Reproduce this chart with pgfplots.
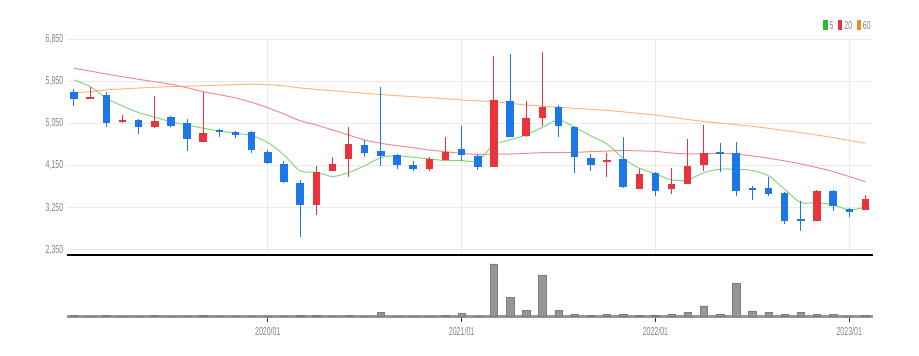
\documentclass[border=0pt]{standalone}
\usepackage{fontspec}
\setmainfont{Liberation Sans}
\newfontfamily\narrowfont[FakeStretch=0.61]{Liberation Sans}
\usepackage{pgfplots}
\usepackage{pgfplotstable}
\pgfplotsset{compat=1.18}
\definecolor{upc}{RGB}{232,52,58}
\definecolor{dnc}{RGB}{28,120,230}
\definecolor{maA}{RGB}{130,214,130}
\definecolor{maB}{RGB}{242,140,140}
\definecolor{maC}{RGB}{250,185,130}
\definecolor{legA}{RGB}{40,190,40}
\definecolor{legB}{RGB}{235,50,55}
\definecolor{legC}{RGB}{240,140,40}
\definecolor{gridc}{RGB}{234,234,234}
\definecolor{labc}{RGB}{130,130,130}
\definecolor{volc}{RGB}{150,150,150}
\definecolor{volb}{RGB}{125,125,125}

% up (red) candles: index, open, high, low, close
\pgfplotstableread{
x o h l c
1 5583 5839 5583 5618
3 5077 5234 5063 5127
5 4970 5640 4956 5113
8 4657 5732 4657 4842
15 3311 4144 3098 4016
16 4030 4330 4030 4180
17 4294 4985 3902 4607
22 4073 4330 4045 4301
23 4265 4757 4265 4443
26 4130 6494 4130 5554
28 4785 5533 4771 5163
29 5177 6579 4999 5398
33 4230 4429 3917 4273
35 3660 4073 3660 3974
37 3653 4102 3546 3753
38 3760 4714 3760 4144
39 4173 5020 4045 4429
46 2962 3632 2962 3603
49 3197 3532 3197 3439
}\upcandles

% down (blue) candles
\pgfplotstableread{
x o h l c
0 5718 5782 5426 5568
2 5654 5725 4970 5070
4 5127 5141 4828 4985
6 5184 5205 4985 5006
7 5056 5155 4472 4728
9 4913 4935 4771 4871
10 4864 4892 4735 4814
11 4878 4892 4429 4486
12 4436 4486 4187 4216
13 4180 4258 3774 3803
14 3781 3845 2635 3311
18 4593 4700 4330 4429
19 4458 5825 4144 4358
20 4372 4401 4073 4173
21 4166 4244 4030 4073
24 4500 4999 4251 4386
25 4365 4394 4059 4116
27 5533 6537 4771 4771
30 5398 5440 4771 4992
31 4977 5006 4002 4337
32 4308 4401 4045 4173
34 4287 4757 3674 3703
36 3988 4009 3504 3610
40 4436 4643 4023 4401
41 4429 4664 3504 3618
42 3674 3717 3418 3632
43 3674 3902 3504 3546
44 3561 3589 2906 2977
45 3019 3390 2749 2977
47 3610 3632 3190 3297
48 3219 3240 3048 3169
}\dncandles

% moving averages: index, ma5, ma20, ma60
\pgfplotstableread{
x m5 m20 m60
0 5981 6230 5709
1 5839 6172 5730
2 5590 6108 5767
3 5426 6051 5790
4 5284 5995 5809
5 5184 5944 5825
6 5091 5888 5837
7 5020 5816 5848
8 4949 5730 5858
9 4892 5666 5870
10 4842 5596 5880
11 4792 5504 5890
12 4643 5388 5880
13 4379 5254 5855
14 4038 5110 5810
15 4010 5019 5780
16 3917 4912 5752
17 4002 4805 5724
18 4150 4698 5696
19 4320 4627 5670
20 4358 4577 5645
21 4330 4533 5624
22 4294 4484 5602
23 4258 4448 5578
24 4258 4413 5553
25 4258 4391 5535
26 4593 4398 5517
27 4700 4398 5482
28 4807 4413 5446
29 4970 4427 5421
30 5127 4427 5396
31 4970 4434 5375
32 4785 4448 5354
33 4610 4462 5330
34 4308 4472 5300
35 4094 4465 5265
36 3974 4455 5232
37 3845 4420 5185
38 3845 4401 5137
39 4002 4401 5095
40 4073 4410 5060
41 4073 4395 5025
42 4045 4358 4990
43 3931 4308 4948
44 3646 4251 4900
45 3361 4187 4853
46 3361 4109 4805
47 3311 4023 4748
48 3205 3917 4690
49 3261 3807 4628
}\matable

% volume (relative units)
\pgfplotstableread{
x v
0 1.5
1 0.3
2 1.5
3 0.3
4 0.3
5 1.5
6 0.3
7 0.3
8 1.5
9 0.3
10 0.3
11 0.3
12 0.3
13 0.3
14 1.5
15 1.5
16 0.3
17 1.5
18 0.3
19 4.5
20 0.3
21 0.3
22 0.3
23 1.5
24 3.4
25 0.6
26 52.7
27 19
28 6
29 41.7
30 6
31 2.7
32 1
33 2.3
34 2.7
35 1
36 1
37 2.7
38 4.3
39 10.7
40 2.7
41 33.3
42 5.7
43 4.3
44 2.3
45 4.3
46 2.3
47 2.3
48 0.7
49 1
}\voltable

\pgfplotsset{
  candle/.style={only marks, mark=*, mark size=0pt,
    mark options={draw=none, fill=none}, forget plot,
    error bars/.cd, y dir=both, y explicit, error mark=none,
    error bar style={#1}},
}
\newcommand{\legsq}[1]{{\color{#1}\rule[-0.4pt]{4.3pt}{9.3pt}}}

\begin{document}
\begin{tikzpicture}
\useasboundingbox (0pt,0pt) rectangle (919pt,356pt);
\begin{axis}[
  at={(67pt,101pt)}, anchor=south west,
  scale only axis, width=806pt, height=215.7pt,
  xmin=-0.433, xmax=49.47, ymin=2240, ymax=6850,
  axis x line*=bottom, axis y line*=left,
  x axis line style={black, line width=1.5pt, -},
  y axis line style={draw=none},
  xtick={12,24,36,48}, xticklabels={},
  ytick={2350,3250,4150,5050,5950,6850},
  major tick length=0pt,
  xmajorgrids, ymajorgrids,
  grid style={gridc, line width=0.8pt},
  /pgf/number format/.cd, fixed, 1000 sep={,}, assume math mode=true,
  /pgfplots/.cd,
  yticklabel style={font=\narrowfont\fontsize{11.5}{13}\selectfont, text=labc, anchor=east, inner sep=0pt, xshift=-3.5pt},
  clip=false,
]
% moving averages
\addplot[maC, line width=1pt, smooth, mark=none, forget plot] table[x=x,y=m60] {\matable};
\addplot[maB, line width=1pt, smooth, mark=none, forget plot] table[x=x,y=m20] {\matable};
\addplot[maA, line width=1pt, smooth, mark=none, forget plot] table[x=x,y=m5] {\matable};
% wicks
\addplot[candle={upc, line width=1pt}]
  table[x=x, y expr={(\thisrow{h}+\thisrow{l})/2}, y error expr={(\thisrow{h}-\thisrow{l})/2}] {\upcandles};
\addplot[candle={dnc, line width=1pt}]
  table[x=x, y expr={(\thisrow{h}+\thisrow{l})/2}, y error expr={(\thisrow{h}-\thisrow{l})/2}] {\dncandles};
% bodies
\addplot[candle={upc, line width=7.5pt}]
  table[x=x, y expr={(\thisrow{o}+\thisrow{c})/2}, y error expr={(\thisrow{c}-\thisrow{o})/2}] {\upcandles};
\addplot[candle={dnc, line width=7.5pt}]
  table[x=x, y expr={(\thisrow{o}+\thisrow{c})/2}, y error expr={(\thisrow{o}-\thisrow{c})/2}] {\dncandles};
% legend
\node[anchor=east, inner sep=0pt, text=labc, font=\narrowfont\fontsize{11.5}{13}\selectfont]
  at (axis description cs:0.9975,1.066)
  {\legsq{legA}\hspace{2pt}5\hspace{4.5pt}\legsq{legB}\hspace{2pt}20\hspace{4.5pt}\legsq{legC}\hspace{2pt}60};
\end{axis}

\begin{axis}[
  at={(67pt,39.3pt)}, anchor=south west,
  scale only axis, width=806pt, height=57pt,
  xmin=-0.433, xmax=49.47, ymin=0, ymax=57,
  axis x line*=bottom, axis y line*=left,
  x axis line style={draw=none},
  y axis line style={draw=none},
  ytick=\empty,
  xtick={12,24,36,48},
  xticklabels={2020/01,2021/01,2022/01,2023/01},
  tick align=outside, major tick length=5pt,
  tick style={black!85, line width=0.8pt},
  xticklabel style={font=\narrowfont\fontsize{11.5}{13}\selectfont, text=labc, inner sep=0pt, yshift=-5pt},
  clip=false,
]
\draw[volc, line width=2.6pt] (rel axis cs:0,0) -- (rel axis cs:1,0);
\addplot[ybar, bar width=7.5pt, bar shift=0pt, fill=volc, draw=volb, line width=0.5pt, forget plot]
  table[x=x,y=v] {\voltable};
\end{axis}
\end{tikzpicture}
\end{document}
